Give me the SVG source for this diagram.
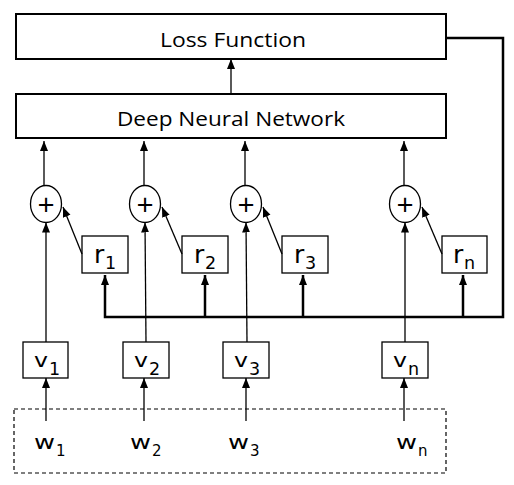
<svg xmlns="http://www.w3.org/2000/svg" width="514" height="485" viewBox="0 0 514 485">
<defs>
<marker id="ah" markerUnits="userSpaceOnUse" markerWidth="10" markerHeight="10" viewBox="0 0 10 10" refX="10" refY="5" orient="auto">
<path d="M0,1 L10,5 L0,9 Z" fill="#000"/>
</marker>
<style>
.box{fill:#fff;stroke:#000;stroke-width:2}
.sbox{fill:#fff;stroke:#000;stroke-width:1.3}
.t{font-family:"Open Sans","Noto Sans",sans-serif;fill:#000}
.d{font-family:"DejaVu Sans","Open Sans",sans-serif;fill:#000}
.lbl{font-size:20px}
.w{font-size:20px}
.v{font-size:20px}
.r{font-size:25px}
.sw{font-size:15px}
.sv{font-size:17.5px}
.plus{font-size:30px;text-anchor:middle}
.thin{stroke:#000;stroke-width:1.3;fill:none}
.thick{stroke:#000;stroke-width:2.5;fill:none}
</style>
</defs>
<rect width="514" height="485" fill="#fff"/>
<g id="loss"><rect class="box" x="16" y="14" width="430" height="45"/><text class="t lbl" x="160" y="47" textLength="146" lengthAdjust="spacingAndGlyphs">Loss Function</text></g>
<g id="dnn"><rect class="box" x="16" y="94" width="430" height="44"/><text class="t lbl" x="117" y="126" textLength="228" lengthAdjust="spacingAndGlyphs">Deep Neural Network</text></g>
<g id="inputs"><rect x="14" y="409" width="432" height="64" fill="none" stroke="#000" stroke-width="1.2" stroke-dasharray="4,3"/>
<text class="d w" x="34" y="449" textLength="21" lengthAdjust="spacingAndGlyphs">w</text><text class="d sw" x="56" y="456">1</text>
<text class="d w" x="130" y="449" textLength="21" lengthAdjust="spacingAndGlyphs">w</text><text class="d sw" x="152" y="456">2</text>
<text class="d w" x="228" y="449" textLength="21" lengthAdjust="spacingAndGlyphs">w</text><text class="d sw" x="250" y="456">3</text>
<text class="d w" x="396" y="449" textLength="21" lengthAdjust="spacingAndGlyphs">w</text><text class="d sw" x="418" y="456">n</text>
</g>
<g id="v1"><rect class="sbox" x="23" y="342" width="45" height="36"/><text class="d v" x="34" y="367" textLength="14" lengthAdjust="spacingAndGlyphs">v</text><text class="d sv" x="49" y="375">1</text></g>
<g id="v2"><rect class="sbox" x="123" y="342" width="46" height="36"/><text class="d v" x="134" y="367" textLength="14" lengthAdjust="spacingAndGlyphs">v</text><text class="d sv" x="149" y="375">2</text></g>
<g id="v3"><rect class="sbox" x="223" y="342" width="46" height="36"/><text class="d v" x="234" y="367" textLength="14" lengthAdjust="spacingAndGlyphs">v</text><text class="d sv" x="249" y="375">3</text></g>
<g id="vn"><rect class="sbox" x="382" y="342" width="46" height="36"/><text class="d v" x="393" y="367" textLength="14" lengthAdjust="spacingAndGlyphs">v</text><text class="d sv" x="408" y="375">n</text></g>
<g id="r1"><rect class="sbox" x="82" y="236" width="46" height="37"/><text class="d r" x="94" y="263">r</text><text class="d sv" x="105" y="269">1</text></g>
<g id="r2"><rect class="sbox" x="182" y="236" width="46" height="37"/><text class="d r" x="194" y="263">r</text><text class="d sv" x="205" y="269">2</text></g>
<g id="r3"><rect class="sbox" x="282" y="236" width="46" height="37"/><text class="d r" x="294" y="263">r</text><text class="d sv" x="305" y="269">3</text></g>
<g id="rn"><rect class="sbox" x="442" y="236" width="45" height="37"/><text class="d r" x="453" y="263">r</text><text class="d sv" x="464" y="269">n</text></g>
<g id="p1"><ellipse class="sbox" cx="46" cy="204" rx="15.5" ry="18.5"/><text class="t plus" x="46" y="215">+</text></g>
<g id="p2"><ellipse class="sbox" cx="145" cy="204" rx="15.5" ry="18.5"/><text class="t plus" x="145" y="215">+</text></g>
<g id="p3"><ellipse class="sbox" cx="246" cy="204" rx="15.5" ry="18.5"/><text class="t plus" x="246" y="215">+</text></g>
<g id="pn"><ellipse class="sbox" cx="405" cy="204" rx="15.5" ry="18.5"/><text class="t plus" x="405" y="215">+</text></g>
<g id="connectors">
<line class="thin" x1="231" y1="94" x2="231" y2="59" marker-end="url(#ah)"/>
<line class="thin" x1="44" y1="185" x2="44" y2="141" marker-end="url(#ah)"/>
<line class="thin" x1="144" y1="185" x2="144" y2="141" marker-end="url(#ah)"/>
<line class="thin" x1="245" y1="185" x2="245" y2="141" marker-end="url(#ah)"/>
<line class="thin" x1="404" y1="185" x2="404" y2="141" marker-end="url(#ah)"/>
<line class="thin" x1="46" y1="342" x2="46" y2="222.5" marker-end="url(#ah)"/>
<line class="thin" x1="146" y1="342" x2="145" y2="222.5" marker-end="url(#ah)"/>
<line class="thin" x1="247" y1="342" x2="246" y2="222.5" marker-end="url(#ah)"/>
<line class="thin" x1="405" y1="342" x2="405" y2="222.5" marker-end="url(#ah)"/>
<line class="thin" x1="82" y1="254" x2="63" y2="207" marker-end="url(#ah)"/>
<line class="thin" x1="182" y1="254" x2="162" y2="207" marker-end="url(#ah)"/>
<line class="thin" x1="282" y1="254" x2="263" y2="207" marker-end="url(#ah)"/>
<line class="thin" x1="442" y1="254" x2="422" y2="207" marker-end="url(#ah)"/>
<line class="thin" x1="46" y1="421" x2="46" y2="378" marker-end="url(#ah)"/>
<line class="thin" x1="144" y1="421" x2="144" y2="378" marker-end="url(#ah)"/>
<line class="thin" x1="246" y1="421" x2="246" y2="378" marker-end="url(#ah)"/>
<line class="thin" x1="404" y1="421" x2="404" y2="378" marker-end="url(#ah)"/>
<path class="thick" d="M446,38 H503 V317 H105 V275" marker-end="url(#ah)"/>
<line class="thick" x1="205" y1="317" x2="205" y2="275" marker-end="url(#ah)"/>
<line class="thick" x1="303" y1="317" x2="303" y2="275" marker-end="url(#ah)"/>
<line class="thick" x1="463" y1="317" x2="463" y2="275" marker-end="url(#ah)"/>
</g>
</svg>
